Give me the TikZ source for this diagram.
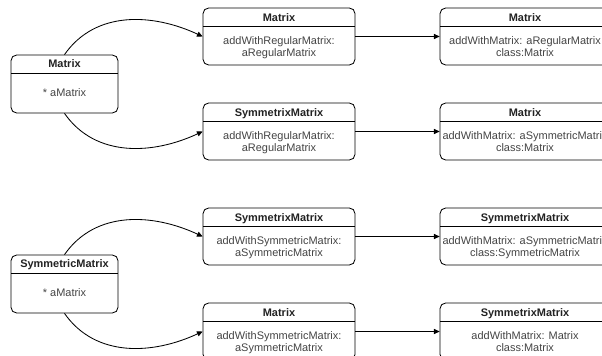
\documentclass[tikz,border=0pt]{standalone}
\usepackage{fontspec}
\setmainfont{Liberation Sans}
\usepackage{tikz}
\usetikzlibrary{positioning,arrows.meta}
\definecolor{bodytext}{HTML}{444444}
\definecolor{titletext}{HTML}{222222}
\tikzset{
  cls/.style={draw, line width=0.6pt, rounded corners=4pt, minimum width=#1, minimum height=1.425cm, inner sep=0pt, align=center, text=bodytext, text height=30pt, text depth=1.6pt,
    path picture={\draw[line width=0.6pt] ([yshift=-0.45cm]path picture bounding box.north west) -- ([yshift=-0.45cm]path picture bounding box.north east);}},
  lcls/.style={cls=2.675cm, minimum height=1.45cm, text height=17.8pt, text depth=0pt},
  ttl/.style={font=\fontsize{7.8pt}{8.7pt}\selectfont\bfseries, text=titletext, inner sep=0pt, text height=5.6pt, text depth=0pt},
  arr/.style={-{Triangle[length=0.14cm,width=0.13cm]}, line width=0.6pt}
}

\begin{document}
\begin{tikzpicture}[font=\fontsize{7.8pt}{8.7pt}\selectfont]
  \useasboundingbox (0,0) rectangle (15.05,-8.9);
  \clip (0,0) rectangle (15.05,-8.9);

  % upper group
  \node[lcls] (L1) at (1.6125,-2.1) {* aMatrix};
  \node[ttl, below=1.3mm of L1.north] (L1t) {Matrix};
  \node[cls=3.8cm] (mA) at (6.975,-0.9125) {addWithRegularMatrix:\\aRegularMatrix};
  \node[ttl, below=1.4mm of mA.north] (mAt) {Matrix};
  \node[cls=3.8cm] (mB) at (6.975,-3.2875) {addWithRegularMatrix:\\aRegularMatrix};
  \node[ttl, below=1.4mm of mB.north] (mBt) {SymmetrixMatrix};
  \node[cls=4.25cm] (rA) at (13.125,-0.9125) {addWithMatrix: aRegularMatrix\\class:Matrix};
  \node[ttl, below=1.4mm of rA.north] (rAt) {Matrix};
  \node[cls=4.25cm] (rB) at (13.125,-3.2875) {addWithMatrix: aSymmetricMatrix\\class:Matrix};
  \node[ttl, below=1.4mm of rB.north] (rBt) {Matrix};

  % lower group
  \node[lcls] (L2) at (1.6125,-7.1) {* aMatrix};
  \node[ttl, below=1.3mm of L2.north] (L2t) {SymmetricMatrix};
  \node[cls=3.8cm] (mC) at (6.975,-5.9125) {addWithSymmetricMatrix:\\aSymmetricMatrix};
  \node[ttl, below=1.4mm of mC.north] (mCt) {SymmetrixMatrix};
  \node[cls=3.8cm] (mD) at (6.975,-8.2875) {addWithSymmetricMatrix:\\aSymmetricMatrix};
  \node[ttl, below=1.4mm of mD.north] (mDt) {Matrix};
  \node[cls=4.25cm] (rC) at (13.125,-5.9125) {addWithMatrix: aSymmetricMatrix\\class:SymmetricMatrix};
  \node[ttl, below=1.4mm of rC.north] (rCt) {SymmetrixMatrix};
  \node[cls=4.25cm] (rD) at (13.125,-8.2875) {addWithMatrix: Matrix\\class:Matrix};
  \node[ttl, below=1.4mm of rD.north] (rDt) {SymmetrixMatrix};

  \draw[arr] (L1.north) to[out=55,in=155] (mA.west);
  \draw[arr] (L1.south) to[out=-55,in=-155] (mB.west);
  \draw[arr] (L2.north) to[out=55,in=155] (mC.west);
  \draw[arr] (L2.south) to[out=-55,in=-155] (mD.west);
  \draw[arr] (mA) -- (rA);
  \draw[arr] (mB) -- (rB);
  \draw[arr] (mC) -- (rC);
  \draw[arr] (mD) -- (rD);
\end{tikzpicture}
\end{document}
